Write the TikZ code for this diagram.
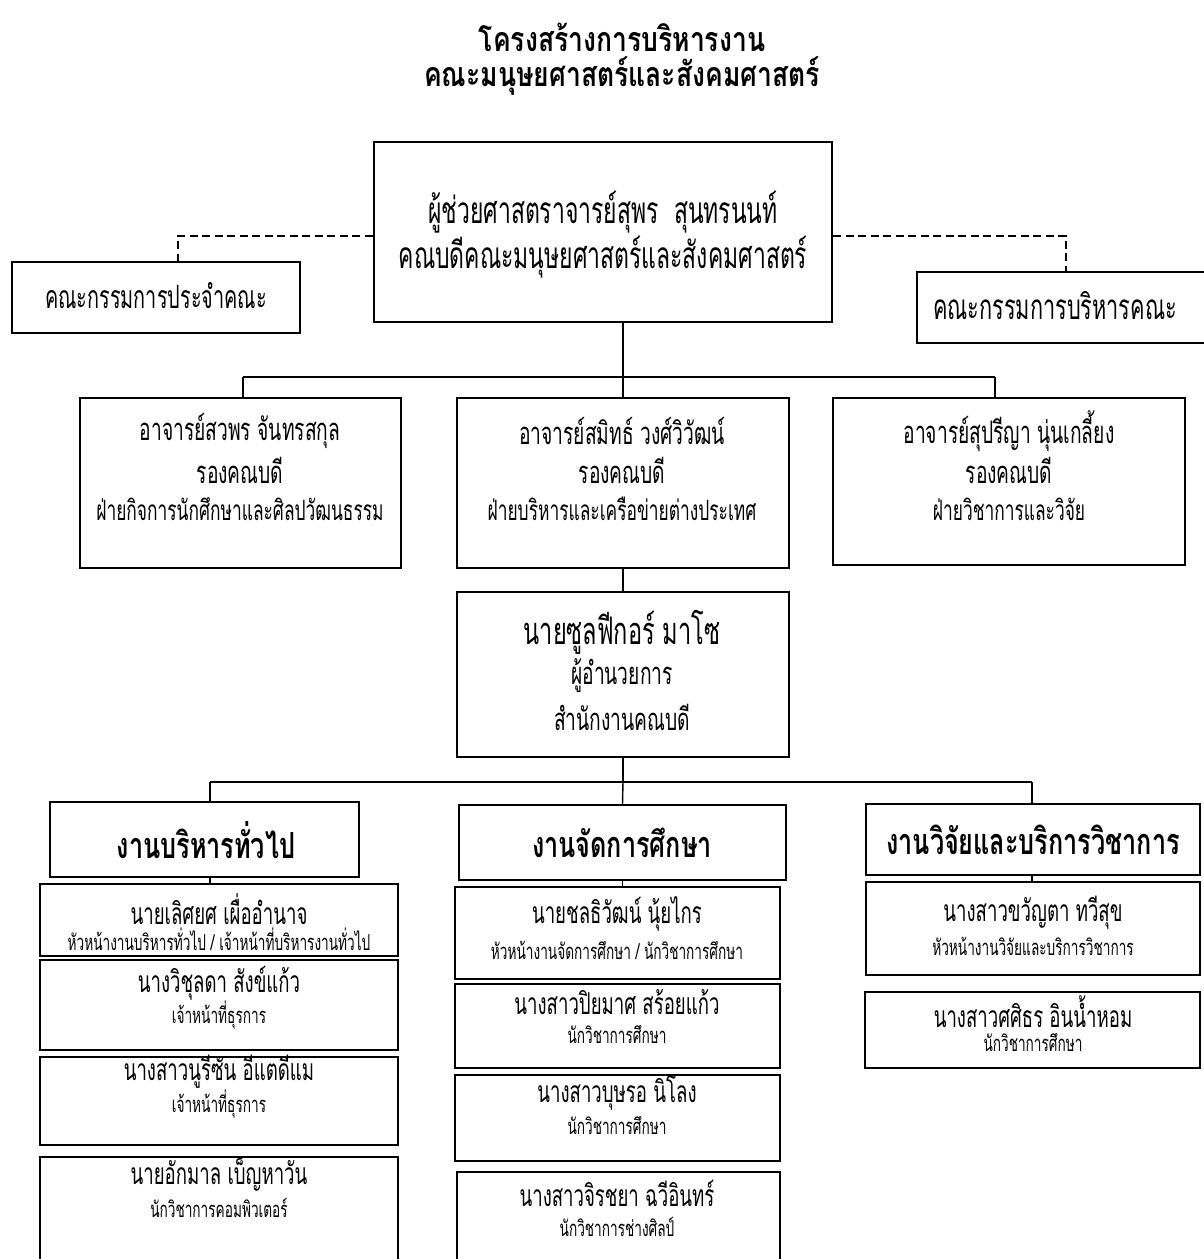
\documentclass[tikz,border=0pt]{standalone}
\usepackage{fontspec}
\newfontfamily\thai[Script=Thai,FakeStretch=0.62]{Loma}
\newfontfamily\thaihead[Script=Thai,FakeStretch=0.7]{Loma}
\newfontfamily\thaititle[Script=Thai,FakeStretch=0.78]{Loma}
\usetikzlibrary{fit}
\tikzset{
  box/.style={draw,line width=2.2pt,inner sep=0pt,fit={#1}},
  conn/.style={line width=1.4pt},
  dconn/.style={line width=1.4pt,dash pattern=on 8pt off 4.5pt},
  ttl/.style={font=\thaititle\bfseries\fontsize{34}{36}\selectfont,inner sep=0pt},
  tdean/.style={font=\thai\fontsize{37}{40}\selectfont,inner sep=0pt},
  tcom/.style={font=\thai\fontsize{32}{34}\selectfont,inner sep=0pt},
  tcomr/.style={font=\thai\fontsize{35}{37}\selectfont,inner sep=0pt},
  tname/.style={font=\thai\fontsize{31}{34}\selectfont,inner sep=0pt},
  tdiv/.style={font=\thai\fontsize{28}{30}\selectfont,inner sep=0pt},
  tdir/.style={font=\thai\fontsize{38}{40}\selectfont,inner sep=0pt},
  tstaff/.style={font=\thai\fontsize{30}{32}\selectfont,inner sep=0pt},
  thead/.style={font=\thaihead\bfseries\fontsize{36}{38}\selectfont,inner sep=0pt},
  trole/.style={font=\thai\fontsize{22}{24}\selectfont,inner sep=0pt},
}
\begin{document}
\begin{tikzpicture}[x=1pt,y=-1pt]
\useasboundingbox[fill=white] (0,0) rectangle (1203,1259);
% title
\node[ttl] (t1) at (622,37) {โครงสร้างการบริหารงาน};
\node[ttl] (t2) at (622,76) {คณะมนุษยศาสตร์และสังคมศาสตร์};
% dean
\node[box={(374,142) (832,322)}] (dean) {};
\node[tdean] (deana) at (603,212) {ผู้ช่วยศาสตราจารย์สุพร\ \ สุนทรนนท์};
\node[tdean] (deanb) at (603,257) {คณบดีคณะมนุษยศาสตร์และสังคมศาสตร์};
% committees
\node[box={(12,262) (300,333)}] (comL) {};
\node[tcom] (comLt) at (156,296) {คณะกรรมการประจำคณะ};
\node[box={(917,272) (1212,343)}] (comR) {};
\node[tcomr] (comRt) at (1055,306) {คณะกรรมการบริหารคณะ};
\coordinate (dL) at (178,236);
\coordinate (dR) at (1066,236);
\draw[dconn] (dean.west |- dL) -- (dL) -- (dL |- comL.north);
\draw[dconn] (dean.east |- dR) -- (dR) -- (dR |- comR.north);
% vice deans
\node[box={(80,398) (401,568)}] (vp1) {};
\node[tname] (vp1a) at (240,431) {อาจารย์สวพร จันทรสกุล};
\node[tname] (vp1b) at (240,470) {รองคณบดี};
\node[tdiv] (vp1c) at (240,509) {ฝ่ายกิจการนักศึกษาและศิลปวัฒนธรรม};
\node[box={(457,398) (789,568)}] (vp2) {};
\node[tname] (vp2a) at (622,431) {อาจารย์สมิทธ์ วงศ์วิวัฒน์};
\node[tname] (vp2b) at (622,470) {รองคณบดี};
\node[tdiv] (vp2c) at (622,509) {ฝ่ายบริหารและเครือข่ายต่างประเทศ};
\node[box={(833,398) (1185,565)}] (vp3) {};
\node[tname] (vp3a) at (1009,431) {อาจารย์สุปรีญา นุ่นเกลี้ยง};
\node[tname] (vp3b) at (1009,470) {รองคณบดี};
\node[tdiv] (vp3c) at (1009,509) {ฝ่ายวิชาการและวิจัย};
\coordinate (b1L) at (243,377);
\coordinate (b1R) at (995,377);
\draw[conn] (dean.south -| vp2.north) -- (vp2.north);
\draw[conn] (b1L) -- (b1R);
\draw[conn] (b1L) -- (b1L |- vp1.north);
\draw[conn] (b1R) -- (b1R |- vp3.north);
% director
\node[box={(457,592) (789,757)}] (dir) {};
\node[tdir] (dira) at (622,632) {นายซูลฟีกอร์ มาโซ};
\node[tname] (dirb) at (622,676) {ผู้อำนวยการ};
\node[tname] (dirc) at (622,717) {สำนักงานคณบดี};
\draw[conn] (vp2.south) -- (dir.north);
% sections
\node[box={(50,802) (359,877)}] (s1) {};
\node[thead] (s1t) at (206,840) {งานบริหารทั่วไป};
\node[box={(459,805) (786,880)}] (s2) {};
\node[thead] (s2t) at (622,843) {งานจัดการศึกษา};
\node[box={(866,804) (1200,875)}] (s3) {};
\node[thead] (s3t) at (1033,840) {งานวิจัยและบริการวิชาการ};
\coordinate (b2L) at (210,782);
\coordinate (b2R) at (1032,782);
\draw[conn] (dir.south) -- (dir.south |- b2L);
\draw[conn] (b2L) -- (b2R);
\draw[conn] (b2L) -- (b2L |- s1.north);
\draw[conn] (b2R) -- (b2R |- s3.north);
\draw[conn] (dir.south |- b2L) -- (s2.north);
% left staff
\node[box={(40,884) (398,956)}] (l1) {};
\node[tstaff] (l1a) at (219,909) {นายเลิศยศ\ เผื่ออำนาจ};
\node[trole] (l1b) at (219,939) {หัวหน้างานบริหารทั่วไป / เจ้าหน้าที่บริหารงานทั่วไป};
\node[box={(40,960) (398,1050)}] (l2) {};
\node[tstaff] (l2a) at (219,983) {นางวิชุลดา\ สังข์แก้ว};
\node[trole] (l2b) at (219,1015) {เจ้าหน้าที่ธุรการ};
\node[box={(40,1057) (398,1145)}] (l3) {};
\node[tstaff] (l3a) at (219,1072) {นางสาวนูรีซัน\ อีแตดีแม};
\node[trole] (l3b) at (219,1104) {เจ้าหน้าที่ธุรการ};
\node[box={(40,1157) (398,1275)}] (l4) {};
\node[tstaff] (l4a) at (219,1174) {นายอักมาล\ เบ็ญหาวัน};
\node[trole] (l4b) at (219,1208) {นักวิชาการคอมพิวเตอร์};
\draw[conn] (s1.south -| b2L) -- (b2L |- l1.north);
% middle staff
\node[box={(455,887) (780,979)}] (m1) {};
\node[tstaff] (m1a) at (617,914) {นายชลธิวัฒน์\ นุ้ยไกร};
\node[trole] (m1b) at (617,950) {หัวหน้างานจัดการศึกษา / นักวิชาการศึกษา};
\node[box={(455,984) (780,1068)}] (m2) {};
\node[tstaff] (m2a) at (617,1002) {นางสาวปิยมาศ\ สร้อยแก้ว};
\node[trole] (m2b) at (617,1035) {นักวิชาการศึกษา};
\node[box={(455,1075) (780,1161)}] (m3) {};
\node[tstaff] (m3a) at (617,1093) {นางสาวบุษรอ\ นิโลง};
\node[trole] (m3b) at (617,1126) {นักวิชาการศึกษา};
\node[box={(457,1172) (780,1275)}] (m4) {};
\node[tstaff] (m4a) at (617,1193) {นางสาวจิรชยา\ ฉวีอินทร์};
\node[trole] (m4b) at (617,1227) {นักวิชาการช่างศิลป์};
\draw[conn] (s2.south) -- (s2.south |- m1.north);
% right staff
\node[box={(866,882) (1200,975)}] (r1) {};
\node[tstaff] (r1a) at (1033,913) {นางสาวขวัญตา\ ทวีสุข};
\node[trole] (r1b) at (1033,946) {หัวหน้างานวิจัยและบริการวิชาการ};
\node[box={(865,992) (1200,1068)}] (r2) {};
\node[tstaff] (r2a) at (1033,1012) {นางสาวศศิธร\ อินน้ำหอม};
\node[trole] (r2b) at (1033,1043) {นักวิชาการศึกษา};
\draw[conn] (s3.south -| b2R) -- (b2R |- r1.north);
\end{tikzpicture}
\end{document}
